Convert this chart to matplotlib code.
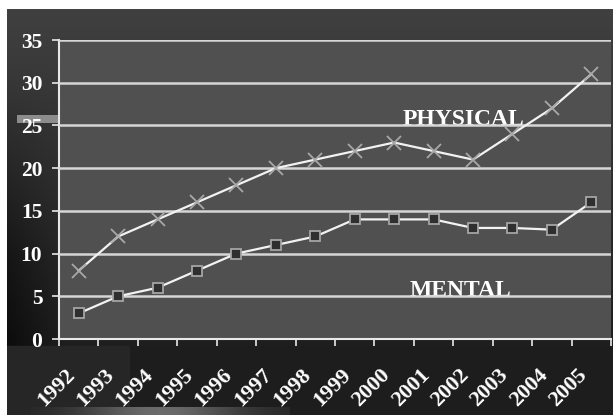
import numpy as np
import matplotlib
matplotlib.use("Agg")
import matplotlib.pyplot as plt
from matplotlib.patches import Rectangle

years = ["1992", "1993", "1994", "1995", "1996", "1997", "1998",
         "1999", "2000", "2001", "2002", "2003", "2004", "2005"]
physical = [8, 12, 14, 16, 18, 20, 21, 22, 23, 22, 21, 24, 27, 31]
mental = [3, 5, 6, 8, 10, 11, 12, 14, 14, 14, 13, 13, 12.8, 16]
y_ticks = [0, 5, 10, 15, 20, 25, 30, 35]

W, H = 613, 415
fig = plt.figure(figsize=(W / 100, H / 100), dpi=100)
fig.patch.set_facecolor("white")

# slide-style dark backdrop
bg = fig.add_axes([0, 0, 1, 1], zorder=-10)
bg.set_axis_off()
yy, xx = np.mgrid[0:H, 0:W].astype(float)
v = 0.25 - 0.13 * np.clip((yy - 10) / 330, 0, 1)
v -= 0.07 * np.clip(1 - (xx - 7) / 60, 0, 1) * np.clip((yy - 60) / 200, 0, 1)
v = np.where(yy > 345, 0.115 + 0.035 * (xx < 130), v)
band = (yy > 406) & (xx > 30) & (xx < 290)
glow = np.exp(-((xx - 160) / 80) ** 2)
v = np.where(band, 0.14 + 0.28 * glow, v)
img = np.clip(np.stack([v, v, v], axis=-1), 0, 1)
img[:10, :, :] = 1.0
img[:, :7, :] = 1.0
bg.imshow(img, extent=[0, W, H, 0], aspect="auto", interpolation="bilinear")
bg.set_xlim(0, W)
bg.set_ylim(H, 0)
# light strip behind the 25 label
bg.add_patch(Rectangle((17, 115), 42, 8, color="#8c8c8c", lw=0))

ax = fig.add_axes([59 / W, (H - 339) / H, (611 - 59) / W, (339 - 40) / H])
ax.set_facecolor("#505050")

x = np.arange(len(years))
ax.set_xlim(-0.5, len(years) - 0.5)
ax.set_ylim(0, 35)

for t in y_ticks[1:]:
    ax.axhline(t, color="#d6d6d6", lw=1.8, zorder=3)

ax.plot(x, physical, color="#f2f2f2", lw=1.6, zorder=4,
        marker="x", ms=9.5, mew=1.3, mec="#a8a8a8")
ax.plot(x, mental, color="#f2f2f2", lw=1.6, zorder=4,
        marker="s", ms=7, mew=1.3, mec="#a5a5a5", mfc="#2f2f2f")

serif = ["Liberation Serif", "DejaVu Serif"]
ax.text(9.77, 25.1, "PHYSICAL", family=serif, weight="bold", fontsize=17,
        color="white", ha="center", va="baseline", zorder=2)
ax.text(9.67, 5.0, "MENTAL", family=serif, weight="bold", fontsize=17,
        color="white", ha="center", va="baseline", zorder=2)

for side in ("top", "right"):
    ax.spines[side].set_visible(False)
for side in ("left", "bottom"):
    ax.spines[side].set_color("#e8e8e8")
    ax.spines[side].set_linewidth(1.5)

ax.set_yticks(y_ticks)
ax.set_yticklabels([str(t) for t in y_ticks], family=serif, weight="bold",
                   fontsize=15.5, color="white")
ax.tick_params(axis="y", direction="out", length=5, width=1.2,
               color="#e8e8e8", pad=7)

ax.set_xticks(np.arange(-0.5, len(years)), minor=True)
ax.tick_params(axis="x", which="major", length=0, labelbottom=False)
ax.tick_params(axis="x", which="minor", direction="out", length=5,
               width=1.2, color="#e8e8e8")
ax.set_xticks(x)

# year labels, rotated and hung below the axis
for i, yr in enumerate(years):
    ax.annotate(yr, xy=(i, 0), xycoords=("data", "axes fraction"),
                xytext=(-7, -33), textcoords="offset pixels",
                family=serif, weight="bold", fontsize=16, color="white",
                rotation=45, ha="right", va="center", rotation_mode="anchor",
                annotation_clip=False)

fig.savefig("out.png", dpi=100, facecolor=fig.get_facecolor())
